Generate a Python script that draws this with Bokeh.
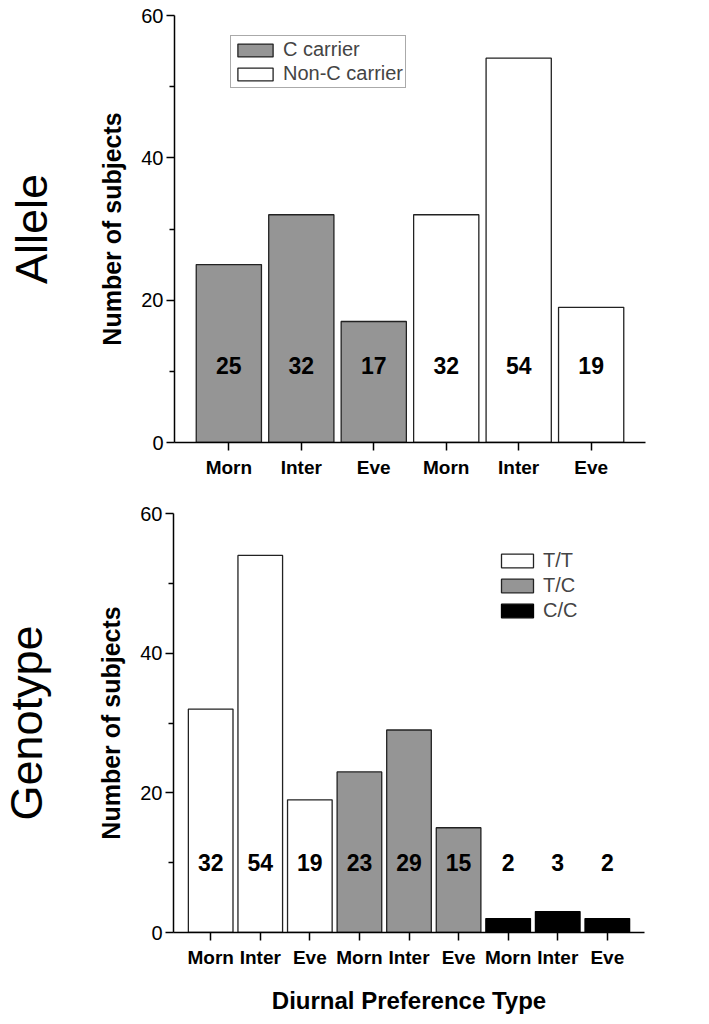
import math
from bokeh.plotting import figure
from bokeh.models import (ColumnDataSource, Range1d, FixedTicker, Legend, LegendItem)
from bokeh.layouts import column, row
from bokeh.core.properties import value
from bokeh.embed import file_html
from bokeh.resources import INLINE

# ---------------- data ----------------
pref_types = ["Morn", "Inter", "Eve"]
allele_groups = ["C carrier", "Non-C carrier"]
c_carrier = [25, 32, 17]
non_c_carrier = [32, 54, 19]
genotype_groups = ["T/T", "T/C", "C/C"]
tt_counts = [32, 54, 19]
tc_counts = [23, 29, 15]
cc_counts = [2, 3, 2]
y_ticks = [0, 20, 40, 60]
y_minor = [10, 30, 50]
panel_names = ["Allele", "Genotype"]

FONT = "Liberation Sans"
GRAY = "#959595"
EDGE = "#222222"
NAME_W = 64


def style_axes(p, n):
    p.xaxis.ticker = FixedTicker(ticks=list(range(1, n + 1)), minor_ticks=[])
    p.xaxis.major_label_overrides = {i + 1: pref_types[i % 3] for i in range(n)}
    p.yaxis.ticker = FixedTicker(ticks=y_ticks, minor_ticks=y_minor)
    for ax in (p.xaxis[0], p.yaxis[0]):
        ax.axis_line_width = 1.5
        ax.axis_line_color = "black"
        ax.major_tick_line_width = 1.5
        ax.minor_tick_line_width = 1.5
        ax.major_tick_in = 0
        ax.minor_tick_in = 0
        ax.major_tick_out = 8
        ax.minor_tick_out = 5
        ax.major_label_text_font = FONT
        ax.major_label_text_color = "black"
        ax.axis_label_text_font = FONT
        ax.axis_label_text_font_style = "bold"
        ax.axis_label_text_color = "black"
    p.xaxis.major_label_text_font_size = "19px"
    p.xaxis.major_label_text_font_style = "bold"
    p.xaxis.major_label_standoff = 6
    p.yaxis.major_label_text_font_size = "20px"
    p.yaxis.major_label_standoff = 3
    p.yaxis.axis_label = "Number of subjects"
    p.yaxis.axis_label_text_font_size = "25px"
    p.yaxis.axis_label_standoff = 12
    p.xgrid.visible = False
    p.ygrid.visible = False
    p.outline_line_color = None


def make_fig(height, n, left, right, top, bottom):
    p = figure(width=701 - NAME_W, height=height, output_backend="svg", toolbar_location=None,
               x_range=Range1d(0.25, n + 0.75), y_range=Range1d(0, 60),
               min_border_left=left - NAME_W, min_border_right=right,
               min_border_top=top, min_border_bottom=bottom)
    style_axes(p, n)
    return p


def make_name_fig(text, height, top, bottom, center_x):
    q = figure(width=NAME_W, height=height, output_backend="svg", toolbar_location=None,
               x_range=Range1d(0, NAME_W), y_range=Range1d(0, 60),
               x_axis_type=None, y_axis_type=None,
               min_border_left=0, min_border_right=0,
               min_border_top=top, min_border_bottom=bottom)
    q.xgrid.visible = False
    q.ygrid.visible = False
    q.outline_line_color = None
    q.text(x=[center_x], y=[30], text=[text], angle=math.pi / 2,
           text_align="center", text_baseline="middle",
           text_font=value(FONT), text_font_size="45px", text_color="black")
    return q


def add_labels(p, xs, vals, ylab):
    src = ColumnDataSource(dict(x=xs, y=[ylab] * len(xs), t=[str(v) for v in vals]))
    p.text(x="x", y="y", text="t", source=src, text_font=value(FONT),
           text_font_style="bold", text_font_size="23px", text_align="center",
           text_baseline="middle", text_color="black")


# ---------------- top: allele ----------------
p1 = make_fig(498, 6, 174, 56, 15, 56)
x_c = [i + 1 for i in range(3)]
x_n = [i + 4 for i in range(3)]
r_c = p1.vbar(x=x_c, top=c_carrier, width=0.9, fill_color=GRAY, line_color=EDGE, line_width=1.3)
r_n = p1.vbar(x=x_n, top=non_c_carrier, width=0.9, fill_color="white", line_color=EDGE, line_width=1.3)
add_labels(p1, x_c + x_n, c_carrier + non_c_carrier, 10.8)
leg1 = Legend(items=[LegendItem(label=allele_groups[0], renderers=[r_c]),
                     LegendItem(label=allele_groups[1], renderers=[r_n])],
              location=(56, 354), glyph_width=44, glyph_height=16, label_standoff=6,
              label_text_font=FONT, label_text_font_size="20px", label_height=16,
              spacing=1, padding=2, margin=0, border_line_color="#555555",
              border_line_width=1, background_fill_alpha=1)
p1.add_layout(leg1, "center")
n1 = make_name_fig(panel_names[0], 498, 15, 56, 31)

# ---------------- bottom: genotype ----------------
p2 = make_fig(518, 9, 173, 57, 15, 77)
x_tt = [i + 1 for i in range(3)]
x_tc = [i + 4 for i in range(3)]
x_cc = [i + 7 for i in range(3)]
r_tt = p2.vbar(x=x_tt, top=tt_counts, width=0.9, fill_color="white", line_color=EDGE, line_width=1.3)
r_tc = p2.vbar(x=x_tc, top=tc_counts, width=0.9, fill_color=GRAY, line_color=EDGE, line_width=1.3)
r_cc = p2.vbar(x=x_cc, top=cc_counts, width=0.9, fill_color="black", line_color="black", line_width=1.3)
add_labels(p2, x_tt + x_tc + x_cc, tt_counts + tc_counts + cc_counts, 10)
leg2 = Legend(items=[LegendItem(label=genotype_groups[0], renderers=[r_tt]),
                     LegendItem(label=genotype_groups[1], renderers=[r_tc]),
                     LegendItem(label=genotype_groups[2], renderers=[r_cc])],
              location=(324, 310), glyph_width=40, glyph_height=17, label_standoff=6,
              label_text_font=FONT, label_text_font_size="20px", label_height=17,
              spacing=2, padding=0, margin=0, border_line_color=None,
              background_fill_alpha=0)
p2.add_layout(leg2, "center")
p2.xaxis.axis_label = "Diurnal Preference Type"
p2.xaxis.axis_label_text_font_size = "24px"
p2.xaxis.axis_label_standoff = 16
n2 = make_name_fig(panel_names[1], 518, 15, 77, 26)

layout = column(row(n1, p1, spacing=0), row(n2, p2, spacing=0), spacing=0)
open("out.html", "w").write(file_html(layout, INLINE))
